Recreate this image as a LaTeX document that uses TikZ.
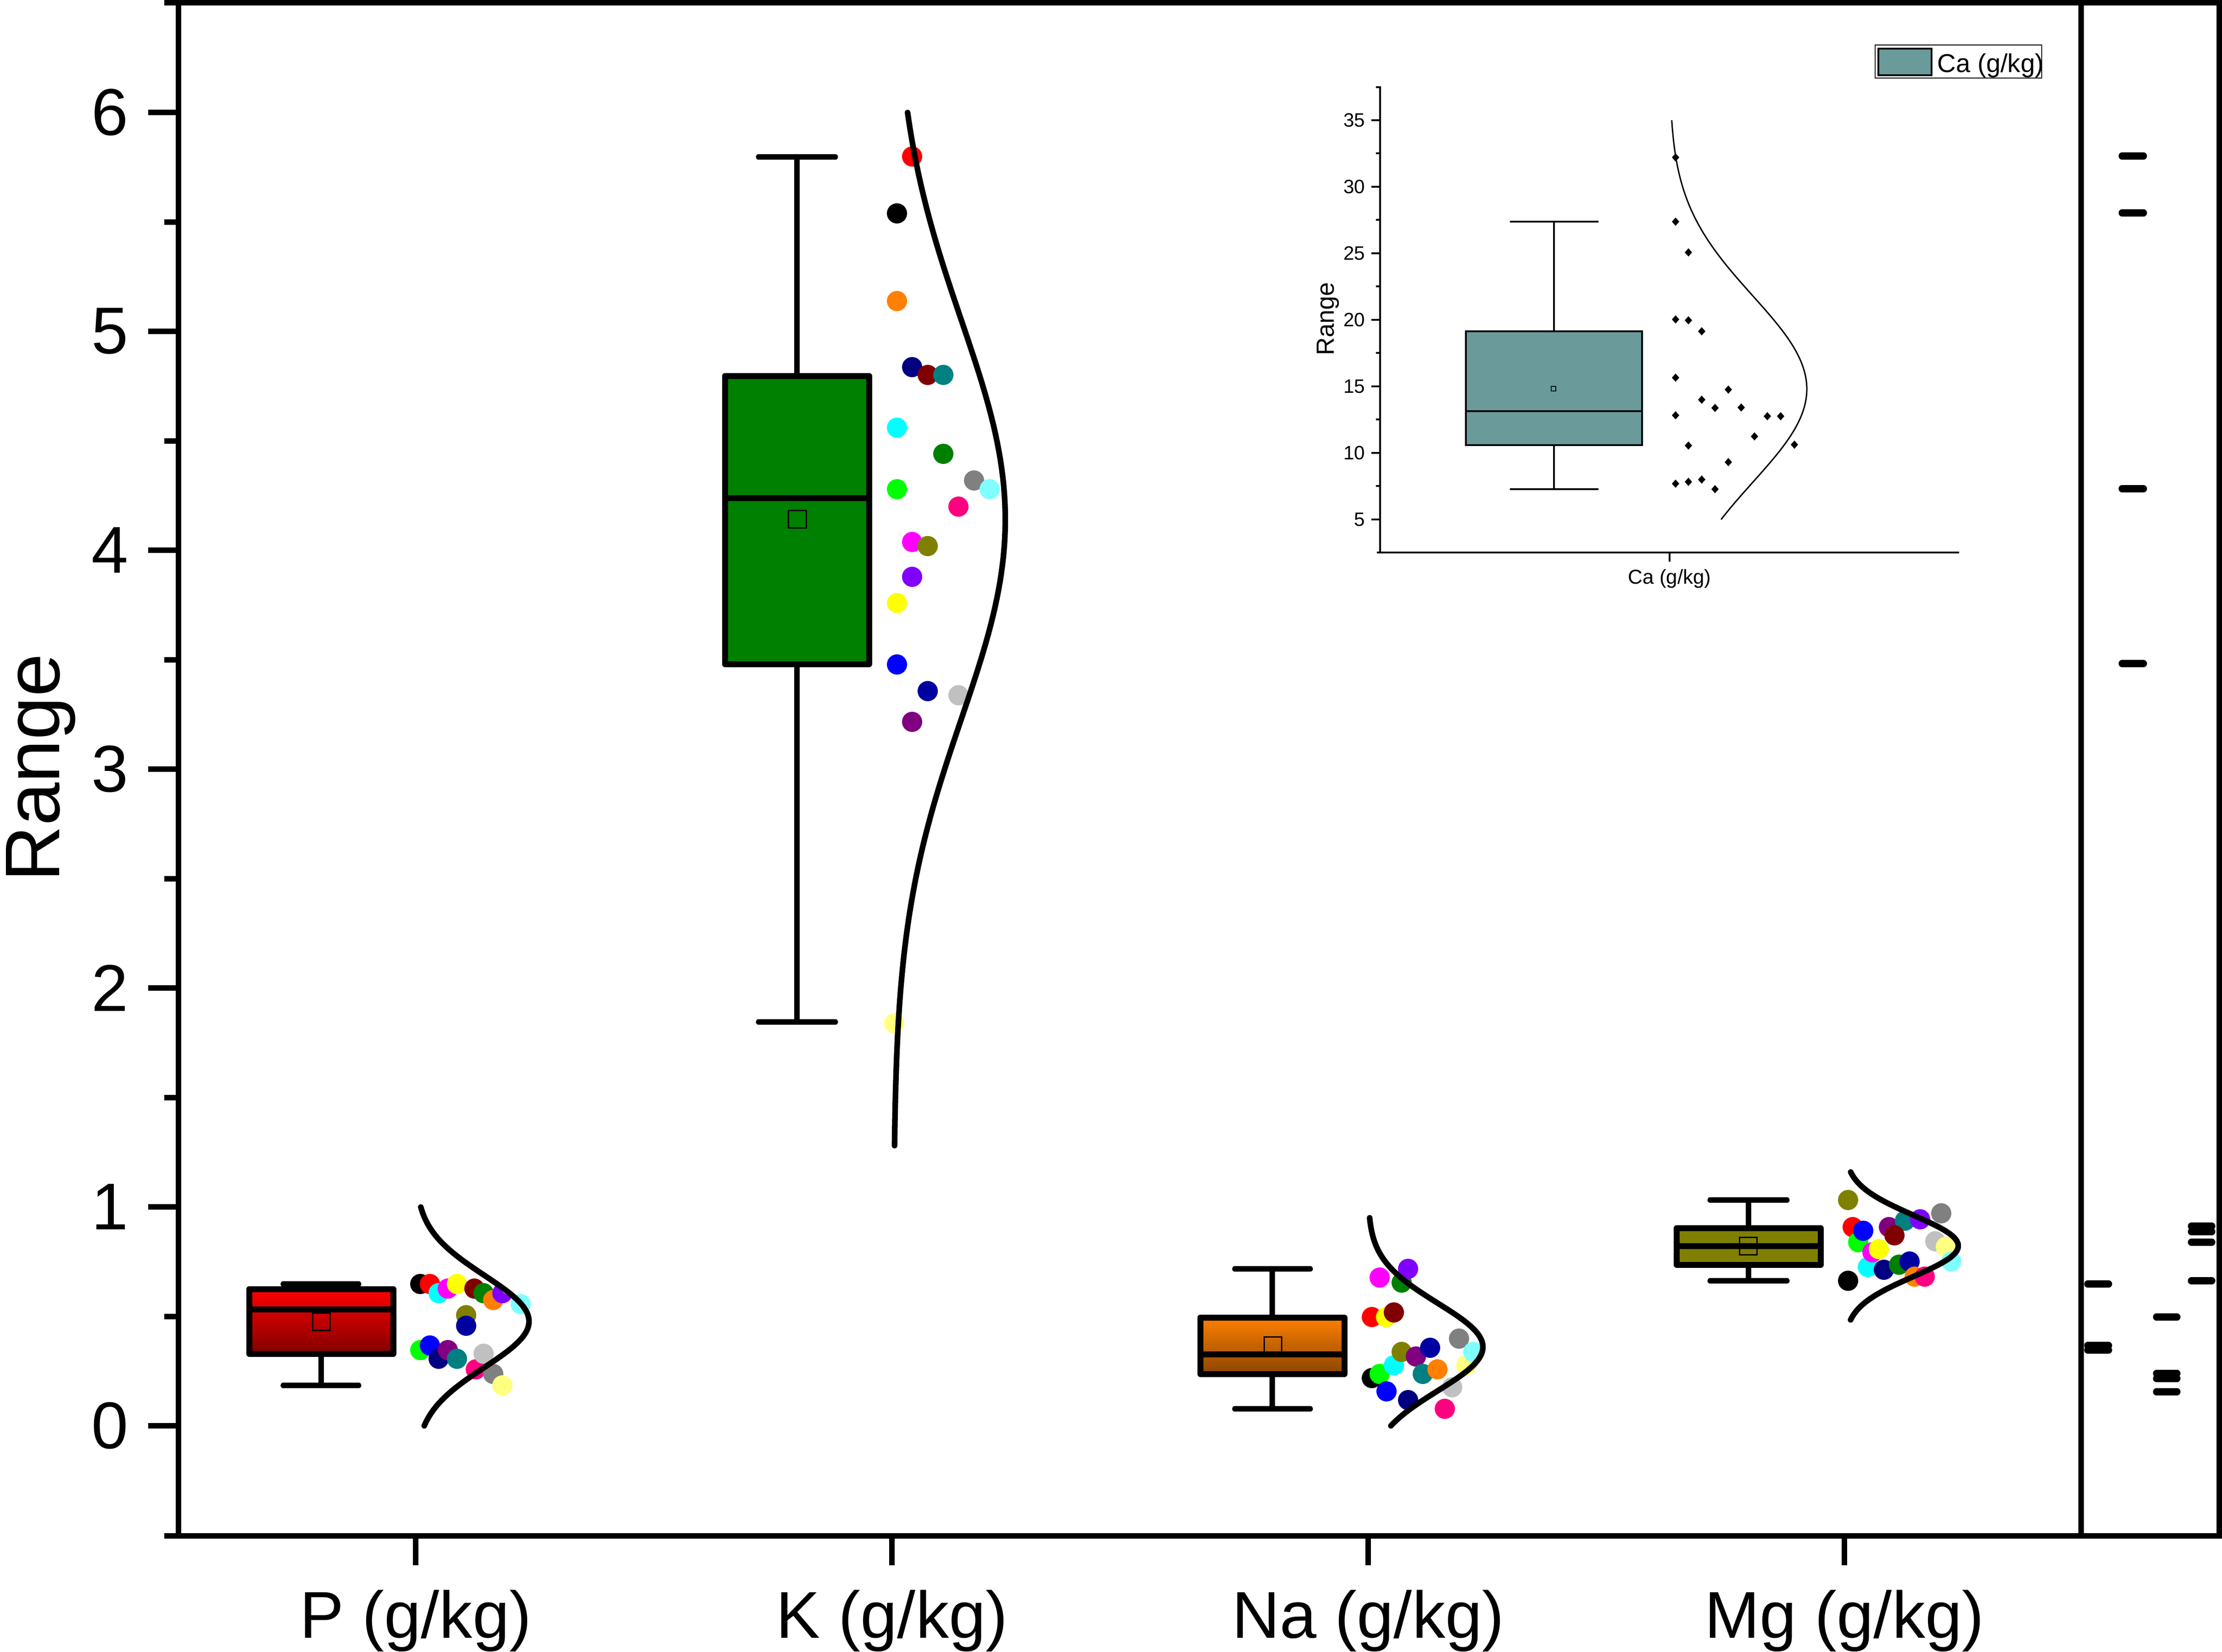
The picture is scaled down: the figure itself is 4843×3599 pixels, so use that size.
\documentclass[tikz,border=0pt]{standalone}
\usepackage{fontspec}
\setmainfont{Liberation Sans}
\usepackage{tikz}

\definecolor{oRed}{RGB}{255,0,0}
\definecolor{oBlue}{RGB}{0,0,255}
\definecolor{oCyan}{RGB}{0,255,255}
\definecolor{oMagenta}{RGB}{255,0,255}
\definecolor{oYellow}{RGB}{255,255,0}
\definecolor{oLime}{RGB}{0,255,0}
\definecolor{oNavy}{RGB}{0,0,128}
\definecolor{oDkBlue}{RGB}{0,0,160}
\definecolor{oPurple}{RGB}{128,0,128}
\definecolor{oWine}{RGB}{128,0,0}
\definecolor{oGreen}{RGB}{0,128,0}
\definecolor{oOlive}{RGB}{128,128,0}
\definecolor{oTeal}{RGB}{0,128,128}
\definecolor{oOrange}{RGB}{255,128,0}
\definecolor{oViolet}{RGB}{128,0,255}
\definecolor{oPink}{RGB}{255,0,128}
\definecolor{oSilver}{RGB}{192,192,192}
\definecolor{oGray}{RGB}{128,128,128}
\definecolor{oLtYellow}{RGB}{255,255,128}
\definecolor{oLtCyan}{RGB}{128,255,255}
\definecolor{pDark}{RGB}{128,0,0}
\definecolor{naTop}{RGB}{255,128,0}
\definecolor{naBottom}{RGB}{139,69,0}
\definecolor{caFill}{RGB}{106,154,154}

\tikzset{
  axisline/.style={line width=3.4pt},
  boxline/.style={line width=3.7pt, line join=round},
  whisk/.style={line width=3.2pt, line cap=round},
  bell/.style={line width=3.5pt, line cap=round},
  meanbox/.style={draw=black, line width=0.85pt},
  rug/.style={line width=4.3pt, line cap=round},
  thinline/.style={line width=1.1pt},
  bigtext/.style={font=\fontsize{41}{49}\selectfont, inner sep=0pt},
  smalltext/.style={font=\fontsize{12}{14}\selectfont, inner sep=0pt}
}

\begin{document}
\begin{tikzpicture}[x=0.01cm, y=-0.01cm]
\useasboundingbox (0,0) rectangle (4843,3599);

    % P (g/kg)
    \shade [top color=oRed, bottom color=pDark] (543,2809) rectangle (857,2950);
    \draw [boxline] (543,2809) rectangle (857,2950);
    \draw [boxline] (543,2853) -- (857,2853);
    \draw [whisk] (617,2798) -- (782,2798);
    \draw [whisk] (700,2950) -- (700,3019);
    \draw [whisk] (617,3019) -- (782,3019);
    \draw [meanbox] (681,2861) rectangle (719,2899);
    % dots
    \fill [black] (916,2798) circle [radius=0.22cm];
    \fill [oRed] (937,2798) circle [radius=0.22cm];
    \fill [oCyan] (956,2818) circle [radius=0.22cm];
    \fill [oMagenta] (976,2808) circle [radius=0.22cm];
    \fill [oYellow] (996,2798) circle [radius=0.22cm];
    \fill [oWine] (1034,2808) circle [radius=0.22cm];
    \fill [oGreen] (1054,2818) circle [radius=0.22cm];
    \fill [oOrange] (1075,2833) circle [radius=0.22cm];
    \fill [oViolet] (1095,2818) circle [radius=0.22cm];
    \fill [white] (1112,2800) circle [radius=0.22cm];
    \fill [oLtCyan] (1135,2842) circle [radius=0.22cm];
    \fill [oOlive] (1016,2866) circle [radius=0.22cm];
    \fill [oDkBlue] (1016,2889) circle [radius=0.22cm];
    \fill [oLime] (916,2942) circle [radius=0.22cm];
    \fill [oBlue] (937,2932) circle [radius=0.22cm];
    \fill [oNavy] (956,2961) circle [radius=0.22cm];
    \fill [oPurple] (976,2942) circle [radius=0.22cm];
    \fill [oTeal] (996,2961) circle [radius=0.22cm];
    \fill [oPink] (1037,2984) circle [radius=0.22cm];
    \fill [oSilver] (1054,2950) circle [radius=0.22cm];
    \fill [oGray] (1075,2994) circle [radius=0.22cm];
    \fill [oLtYellow] (1095,3019) circle [radius=0.22cm];
    % curve
    \draw [bell] plot [domain=0:1, samples=80, variable=\val]
        ({906+247*exp(-((\val-0.477)*(\val-0.477))/0.0882)}, {3107-477*\val});

    % K (g/kg)
    \fill [oGreen] (1580,819) rectangle (1894,1447);
    \draw [boxline] (1580,819) rectangle (1894,1447);
    \draw [boxline] (1580,1085) -- (1894,1085);
    \draw [whisk] (1653,342) -- (1821,342);
    \draw [whisk] (1737,342) -- (1737,819);
    \draw [whisk] (1737,1447) -- (1737,2227);
    \draw [whisk] (1653,2227) -- (1821,2227);
    \draw [meanbox] (1718,1112) rectangle (1757,1150);
    % dots
    \fill [oRed] (1988,341) circle [radius=0.22cm];
    \fill [black] (1955,465) circle [radius=0.22cm];
    \fill [oOrange] (1955,656) circle [radius=0.22cm];
    \fill [oNavy] (1988,800) circle [radius=0.22cm];
    \fill [oWine] (2022,817) circle [radius=0.22cm];
    \fill [oTeal] (2056,817) circle [radius=0.22cm];
    \fill [oCyan] (1955,932) circle [radius=0.22cm];
    \fill [oGreen] (2056,989) circle [radius=0.22cm];
    \fill [oGray] (2123,1047) circle [radius=0.22cm];
    \fill [oLtCyan] (2157,1066) circle [radius=0.22cm];
    \fill [oLime] (1955,1066) circle [radius=0.22cm];
    \fill [oPink] (2089,1104) circle [radius=0.22cm];
    \fill [oMagenta] (1988,1181) circle [radius=0.22cm];
    \fill [oOlive] (2022,1190) circle [radius=0.22cm];
    \fill [oViolet] (1988,1257) circle [radius=0.22cm];
    \fill [oYellow] (1955,1314) circle [radius=0.22cm];
    \fill [oBlue] (1955,1448) circle [radius=0.22cm];
    \fill [oDkBlue] (2022,1506) circle [radius=0.22cm];
    \fill [oSilver] (2089,1515) circle [radius=0.22cm];
    \fill [oPurple] (1988,1573) circle [radius=0.22cm];
    \fill [oLtYellow] (1949,2230) circle [radius=0.22cm];
    % curve
    \draw [bell] plot [domain=1.28:6, samples=120, variable=\val]
        ({1948+243*exp(-((\val-4.14)*(\val-4.14))/1.656)}, {3107-477*\val});

    % Na (g/kg)
    \shade [top color=naTop, bottom color=naBottom] (2616,2871) rectangle (2930,2994);
    \draw [boxline] (2616,2871) rectangle (2930,2994);
    \draw [boxline] (2616,2951) -- (2930,2951);
    \draw [whisk] (2691,2765) -- (2856,2765);
    \draw [whisk] (2773,2765) -- (2773,2871);
    \draw [whisk] (2773,2994) -- (2773,3070);
    \draw [whisk] (2691,3070) -- (2856,3070);
    \draw [meanbox] (2755,2913) rectangle (2793,2951);
    % dots
    \fill [oMagenta] (3007,2784) circle [radius=0.22cm];
    \fill [oGreen] (3055,2795) circle [radius=0.22cm];
    \fill [oViolet] (3069,2765) circle [radius=0.22cm];
    \fill [oRed] (2990,2870) circle [radius=0.22cm];
    \fill [oYellow] (3021,2870) circle [radius=0.22cm];
    \fill [oWine] (3038,2860) circle [radius=0.22cm];
    \fill [oGray] (3180,2917) circle [radius=0.22cm];
    \fill [oLtYellow] (3196,2975) circle [radius=0.22cm];
    \fill [oLtCyan] (3211,2946) circle [radius=0.22cm];
    \fill [black] (2990,3003) circle [radius=0.22cm];
    \fill [oLime] (3007,2994) circle [radius=0.22cm];
    \fill [oCyan] (3038,2975) circle [radius=0.22cm];
    \fill [oOlive] (3055,2946) circle [radius=0.22cm];
    \fill [oPurple] (3086,2956) circle [radius=0.22cm];
    \fill [oDkBlue] (3117,2937) circle [radius=0.22cm];
    \fill [oTeal] (3101,2994) circle [radius=0.22cm];
    \fill [oOrange] (3133,2984) circle [radius=0.22cm];
    \fill [oBlue] (3022,3032) circle [radius=0.22cm];
    \fill [oSilver] (3165,3023) circle [radius=0.22cm];
    \fill [oNavy] (3069,3051) circle [radius=0.22cm];
    \fill [oPink] (3149,3070) circle [radius=0.22cm];
    % curve
    \draw [bell] plot [domain=0:0.95, samples=80, variable=\val]
        ({2982+250*exp(-((\val-0.36)*(\val-0.36))/0.08)}, {3107-477*\val});

    % Mg (g/kg)
    \fill [oOlive] (3654,2676) rectangle (3968,2756);
    \draw [boxline] (3654,2676) rectangle (3968,2756);
    \draw [boxline] (3654,2715) -- (3968,2715);
    \draw [whisk] (3727,2615) -- (3895,2615);
    \draw [whisk] (3811,2615) -- (3811,2676);
    \draw [whisk] (3811,2756) -- (3811,2791);
    \draw [whisk] (3727,2791) -- (3895,2791);
    \draw [meanbox] (3791,2696) rectangle (3829,2734);
    % dots
    \fill [oOlive] (4028,2615) circle [radius=0.22cm];
    \fill [oRed] (4038,2674) circle [radius=0.22cm];
    \fill [oLime] (4050,2707) circle [radius=0.22cm];
    \fill [oBlue] (4061,2682) circle [radius=0.22cm];
    \fill [oPurple] (4117,2674) circle [radius=0.22cm];
    \fill [oTeal] (4152,2660) circle [radius=0.22cm];
    \fill [oViolet] (4185,2657) circle [radius=0.22cm];
    \fill [oGray] (4231,2644) circle [radius=0.22cm];
    \fill [oWine] (4129,2692) circle [radius=0.22cm];
    \fill [oSilver] (4218,2705) circle [radius=0.22cm];
    \fill [oLtYellow] (4241,2717) circle [radius=0.22cm];
    \fill [oCyan] (4071,2761) circle [radius=0.22cm];
    \fill [oMagenta] (4081,2729) circle [radius=0.22cm];
    \fill [oYellow] (4095,2722) circle [radius=0.22cm];
    \fill [oNavy] (4106,2767) circle [radius=0.22cm];
    \fill [oGreen] (4139,2756) circle [radius=0.22cm];
    \fill [oDkBlue] (4162,2749) circle [radius=0.22cm];
    \fill [oLtCyan] (4253,2749) circle [radius=0.22cm];
    \fill [oOrange] (4173,2782) circle [radius=0.22cm];
    \fill [oPink] (4195,2782) circle [radius=0.22cm];
    \fill [black] (4028,2791) circle [radius=0.22cm];
    % curve
    \draw [bell] plot [domain=0.484:1.16, samples=80, variable=\val]
        ({4020+248*exp(-((\val-0.822)*(\val-0.822))/0.0392)}, {3107-477*\val});

    % frame
    \draw [axisline] (389,0) -- (389,3353);
    \draw [axisline] (358,6) -- (4843,6);
    \draw [axisline] (358,3347) -- (4843,3347);
    \draw [axisline] (4536,0) -- (4536,3353);
    \draw [axisline] (4837,0) -- (4837,3353);
    % y ticks
    \draw [axisline] (323,3107) -- (389,3107);
    \draw [axisline] (323,2630) -- (389,2630);
    \draw [axisline] (323,2153) -- (389,2153);
    \draw [axisline] (323,1676) -- (389,1676);
    \draw [axisline] (323,1199) -- (389,1199);
    \draw [axisline] (323,722) -- (389,722);
    \draw [axisline] (323,245) -- (389,245);
    \draw [axisline] (358,2869) -- (389,2869);
    \draw [axisline] (358,2392) -- (389,2392);
    \draw [axisline] (358,1915) -- (389,1915);
    \draw [axisline] (358,1438) -- (389,1438);
    \draw [axisline] (358,961) -- (389,961);
    \draw [axisline] (358,484) -- (389,484);
    % x ticks
    \draw [axisline] (906,3347) -- (906,3411);
    \draw [axisline] (1944,3347) -- (1944,3411);
    \draw [axisline] (2982,3347) -- (2982,3411);
    \draw [axisline] (4020,3347) -- (4020,3411);
    % labels
    \node [bigtext, anchor=east] (t0) at (280,3107) {0};
    \node [bigtext, anchor=east] (t1) at (280,2630) {1};
    \node [bigtext, anchor=east] (t2) at (280,2153) {2};
    \node [bigtext, anchor=east] (t3) at (280,1676) {3};
    \node [bigtext, anchor=east] (t4) at (280,1199) {4};
    \node [bigtext, anchor=east] (t5) at (280,722) {5};
    \node [bigtext, anchor=east] (t6) at (280,245) {6};
    \node [bigtext, anchor=base] (labelP) at (906,3569) {P (g/kg)};
    \node [bigtext, anchor=base] (labelK) at (1944,3569) {K (g/kg)};
    \node [bigtext, anchor=base] (labelNa) at (2982,3569) {Na (g/kg)};
    \node [bigtext, anchor=base] (labelMg) at (4020,3569) {Mg (g/kg)};
    \node [font=\fontsize{48}{56}\selectfont, inner sep=0pt, rotate=90, anchor=base] (rangeMain) at (129,1673) {Range};

    % side panel
    \draw [rug] (4550,2798) -- (4596,2798);
    \draw [rug] (4550,2932) -- (4596,2932);
    \draw [rug] (4550,2942) -- (4596,2942);
    \draw [rug] (4625,340) -- (4672,340);
    \draw [rug] (4625,464) -- (4672,464);
    \draw [rug] (4625,1065) -- (4672,1065);
    \draw [rug] (4625,1446) -- (4672,1446);
    \draw [rug] (4700,2870) -- (4745,2870);
    \draw [rug] (4700,2993) -- (4745,2993);
    \draw [rug] (4700,3004) -- (4745,3004);
    \draw [rug] (4700,3033) -- (4745,3033);
    \draw [rug] (4776,2672) -- (4821,2672);
    \draw [rug] (4776,2684) -- (4821,2684);
    \draw [rug] (4776,2707) -- (4821,2707);
    \draw [rug] (4776,2791) -- (4821,2791);

    % inset Ca
    \fill [caFill] (3195,722) rectangle (3579,970);
    \draw [line width=0.9pt] (3195,722) rectangle (3579,970);
    \draw [line width=0.9pt] (3195,896) -- (3579,896);
    \draw [line width=0.9pt] (3291,483) -- (3484,483);
    \draw [line width=0.9pt] (3387,483) -- (3387,722);
    \draw [line width=0.9pt] (3387,970) -- (3387,1066);
    \draw [line width=0.9pt] (3291,1066) -- (3484,1066);
    \draw [line width=0.5pt] (3381,842) rectangle (3391,852);
    % diamonds
    \fill (3652,343) ++(0,-9) -- ++(8,9) -- ++(-8,9) -- ++(-8,-9) -- cycle;
    \fill (3652,483) ++(0,-9) -- ++(8,9) -- ++(-8,9) -- ++(-8,-9) -- cycle;
    \fill (3680,550) ++(0,-9) -- ++(8,9) -- ++(-8,9) -- ++(-8,-9) -- cycle;
    \fill (3652,696) ++(0,-9) -- ++(8,9) -- ++(-8,9) -- ++(-8,-9) -- cycle;
    \fill (3680,698) ++(0,-9) -- ++(8,9) -- ++(-8,9) -- ++(-8,-9) -- cycle;
    \fill (3709,722) ++(0,-9) -- ++(8,9) -- ++(-8,9) -- ++(-8,-9) -- cycle;
    \fill (3652,823) ++(0,-9) -- ++(8,9) -- ++(-8,9) -- ++(-8,-9) -- cycle;
    \fill (3767,849) ++(0,-9) -- ++(8,9) -- ++(-8,9) -- ++(-8,-9) -- cycle;
    \fill (3709,871) ++(0,-9) -- ++(8,9) -- ++(-8,9) -- ++(-8,-9) -- cycle;
    \fill (3738,889) ++(0,-9) -- ++(8,9) -- ++(-8,9) -- ++(-8,-9) -- cycle;
    \fill (3795,888) ++(0,-9) -- ++(8,9) -- ++(-8,9) -- ++(-8,-9) -- cycle;
    \fill (3652,905) ++(0,-9) -- ++(8,9) -- ++(-8,9) -- ++(-8,-9) -- cycle;
    \fill (3852,907) ++(0,-9) -- ++(8,9) -- ++(-8,9) -- ++(-8,-9) -- cycle;
    \fill (3881,907) ++(0,-9) -- ++(8,9) -- ++(-8,9) -- ++(-8,-9) -- cycle;
    \fill (3824,951) ++(0,-9) -- ++(8,9) -- ++(-8,9) -- ++(-8,-9) -- cycle;
    \fill (3911,969) ++(0,-9) -- ++(8,9) -- ++(-8,9) -- ++(-8,-9) -- cycle;
    \fill (3680,971) ++(0,-9) -- ++(8,9) -- ++(-8,9) -- ++(-8,-9) -- cycle;
    \fill (3767,1007) ++(0,-9) -- ++(8,9) -- ++(-8,9) -- ++(-8,-9) -- cycle;
    \fill (3652,1054) ++(0,-9) -- ++(8,9) -- ++(-8,9) -- ++(-8,-9) -- cycle;
    \fill (3680,1050) ++(0,-9) -- ++(8,9) -- ++(-8,9) -- ++(-8,-9) -- cycle;
    \fill (3709,1045) ++(0,-9) -- ++(8,9) -- ++(-8,9) -- ++(-8,-9) -- cycle;
    \fill (3738,1066) ++(0,-9) -- ++(8,9) -- ++(-8,9) -- ++(-8,-9) -- cycle;
    % curve
    \draw [line width=0.85pt] plot [domain=5:35, samples=100, variable=\val]
        ({3639+299*exp(-((\val-14.8)*(\val-14.8))/98)}, {1277-29*\val});
    % axes
    \draw [thinline] (3008,188) -- (3008,1206);
    \draw [thinline] (3001,1204) -- (4270,1204);
    \draw [thinline] (2989,1132) -- (3008,1132);
    \draw [thinline] (2989,987) -- (3008,987);
    \draw [thinline] (2989,842) -- (3008,842);
    \draw [thinline] (2989,697) -- (3008,697);
    \draw [thinline] (2989,552) -- (3008,552);
    \draw [thinline] (2989,407) -- (3008,407);
    \draw [thinline] (2989,262) -- (3008,262);
    \draw [thinline] (2999,1059) -- (3008,1059);
    \draw [thinline] (2999,914) -- (3008,914);
    \draw [thinline] (2999,769) -- (3008,769);
    \draw [thinline] (2999,624) -- (3008,624);
    \draw [thinline] (2999,479) -- (3008,479);
    \draw [thinline] (2999,334) -- (3008,334);
    \draw [thinline] (2999,190) -- (3008,190);
    \draw [thinline] (3639,1204) -- (3639,1224);
    % label
    \node [smalltext, anchor=east] (c5) at (2976,1132) {5};
    \node [smalltext, anchor=east] (c10) at (2976,987) {10};
    \node [smalltext, anchor=east] (c15) at (2976,842) {15};
    \node [smalltext, anchor=east] (c20) at (2976,697) {20};
    \node [smalltext, anchor=east] (c25) at (2976,552) {25};
    \node [smalltext, anchor=east] (c30) at (2976,407) {30};
    \node [smalltext, anchor=east] (c35) at (2976,262) {35};
    \node [font=\fontsize{12.5}{15}\selectfont, inner sep=0pt, anchor=base] (caTick) at (3639,1272) {Ca (g/kg)};
    \node [font=\fontsize{15.4}{18}\selectfont, inner sep=0pt, rotate=90, anchor=base] (rangeInset) at (2907,695) {Range};
    % legend
    \draw [line width=0.45pt] (4087,98) rectangle (4450,170);
    \fill [caFill] (4094,106) rectangle (4210,164);
    \draw [line width=0.9pt] (4094,106) rectangle (4210,164);
    \node [font=\fontsize{16}{19}\selectfont, inner sep=0pt, anchor=base west] (caLegend) at (4222,157) {Ca (g/kg)};
\end{tikzpicture}
\end{document}
